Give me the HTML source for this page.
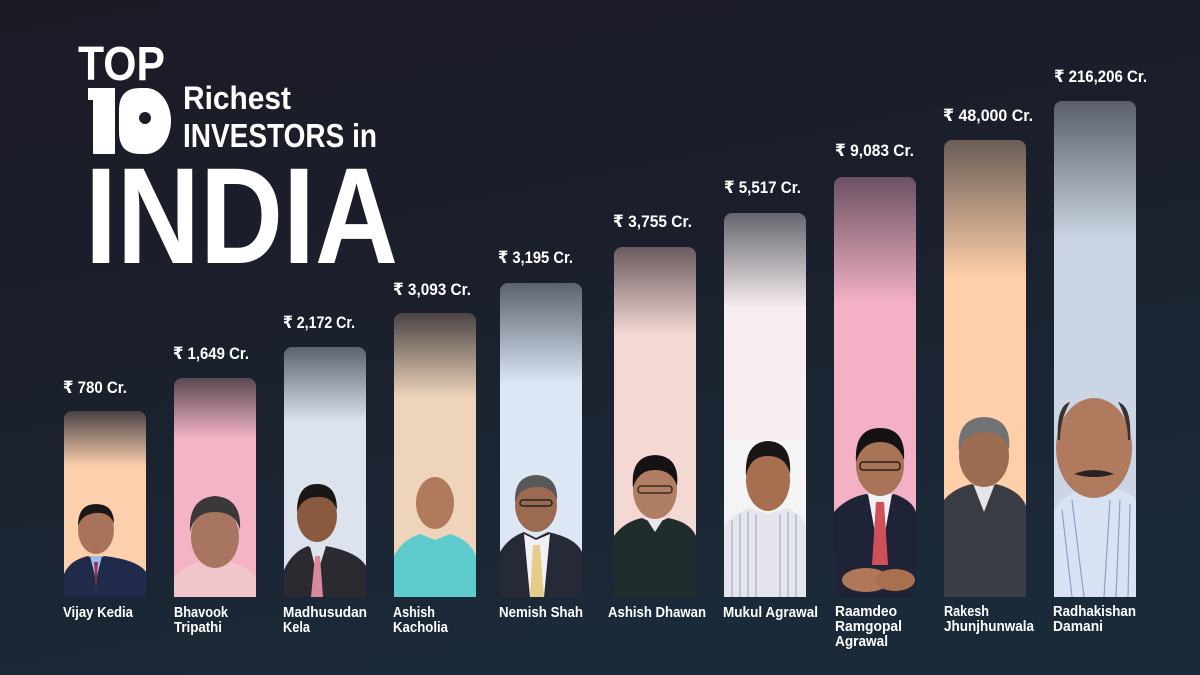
<!DOCTYPE html>
<html><head><meta charset="utf-8"><style>
html,body{margin:0;padding:0;width:1200px;height:675px;overflow:hidden;background:#1b1f2c;}
svg{display:block}
</style></head><body>
<svg width="1200" height="675" viewBox="0 0 1200 675" xmlns="http://www.w3.org/2000/svg">
<defs>
<linearGradient id="bg" x1="0" y1="0" x2="0.35" y2="1">
<stop offset="0" stop-color="#1b1b26"/><stop offset="0.5" stop-color="#1b1f2c"/><stop offset="1" stop-color="#1b2a39"/>
</linearGradient>
<linearGradient id="g1" x1="0" y1="0" x2="0" y2="1"><stop offset="0" stop-color="#4a4244"/><stop offset="0.3" stop-color="#fdd0ad"/><stop offset="1" stop-color="#fdd0ad"/></linearGradient>
<linearGradient id="g2" x1="0" y1="0" x2="0" y2="1"><stop offset="0" stop-color="#5a4852"/><stop offset="0.28" stop-color="#f5b4c6"/><stop offset="1" stop-color="#f5b4c6"/></linearGradient>
<linearGradient id="g3" x1="0" y1="0" x2="0" y2="1"><stop offset="0" stop-color="#5c626e"/><stop offset="0.3" stop-color="#dce3ee"/><stop offset="1" stop-color="#dce3ee"/></linearGradient>
<linearGradient id="g4" x1="0" y1="0" x2="0" y2="1"><stop offset="0" stop-color="#4a4442"/><stop offset="0.3" stop-color="#efd4bc"/><stop offset="1" stop-color="#efd4bc"/></linearGradient>
<linearGradient id="g5" x1="0" y1="0" x2="0" y2="1"><stop offset="0" stop-color="#5a6270"/><stop offset="0.32" stop-color="#dde6f4"/><stop offset="1" stop-color="#dde6f4"/></linearGradient>
<linearGradient id="g6" x1="0" y1="0" x2="0" y2="1"><stop offset="0" stop-color="#6a5a5e"/><stop offset="0.25" stop-color="#f4d8d4"/><stop offset="1" stop-color="#f4d8d4"/></linearGradient>
<linearGradient id="g7" x1="0" y1="0" x2="0" y2="1"><stop offset="0" stop-color="#65666e"/><stop offset="0.25" stop-color="#f8eef1"/><stop offset="1" stop-color="#f8eef1"/></linearGradient>
<linearGradient id="g8" x1="0" y1="0" x2="0" y2="1"><stop offset="0" stop-color="#6a5262"/><stop offset="0.3" stop-color="#f4b1c5"/><stop offset="1" stop-color="#f4b1c5"/></linearGradient>
<linearGradient id="g9" x1="0" y1="0" x2="0" y2="1"><stop offset="0" stop-color="#6a5c56"/><stop offset="0.3" stop-color="#fecfa9"/><stop offset="1" stop-color="#fecfa9"/></linearGradient>
<linearGradient id="g10" x1="0" y1="0" x2="0" y2="1"><stop offset="0" stop-color="#5a5f68"/><stop offset="0.28" stop-color="#cbd5e3"/><stop offset="1" stop-color="#cbd5e3"/></linearGradient>
</defs>
<rect width="1200" height="675" fill="url(#bg)"/>

<!-- Title -->
<g fill="#ffffff" font-family="'Liberation Sans', sans-serif" font-weight="bold">
<text x="78" y="80" font-size="48" textLength="87" lengthAdjust="spacingAndGlyphs">TOP</text>
<path d="M88 88 H115 V154 H93 V100 H88 Z"/>
<path d="M140 88 H146 A25 33 0 0 1 146 154 H140 Q119 154 119 132 V110 Q119 88 140 88 Z M145 112 a6 6 0 1 0 0.01 0 Z" fill-rule="evenodd"/>
<text x="183" y="109" font-size="32" textLength="108" lengthAdjust="spacingAndGlyphs" style="font-weight:600">Richest</text>
<text x="183" y="147" font-size="33" textLength="194" lengthAdjust="spacingAndGlyphs" style="font-weight:600">INVESTORS in</text>
<text x="85" y="263" font-size="137" textLength="313" lengthAdjust="spacingAndGlyphs">INDIA</text>
</g>

<!-- Bars -->
<rect x="64" y="411" width="82" height="186" rx="8" fill="url(#g1)"/>
<rect x="174" y="378" width="82" height="219" rx="8" fill="url(#g2)"/>
<rect x="284" y="347" width="82" height="250" rx="8" fill="url(#g3)"/>
<rect x="394" y="313" width="82" height="284" rx="8" fill="url(#g4)"/>
<rect x="500" y="283" width="82" height="314" rx="8" fill="url(#g5)"/>
<rect x="614" y="247" width="82" height="350" rx="8" fill="url(#g6)"/>
<rect x="724" y="213" width="82" height="384" rx="8" fill="url(#g7)"/>
<rect x="834" y="177" width="82" height="420" rx="8" fill="url(#g8)"/>
<rect x="944" y="140" width="82" height="457" rx="8" fill="url(#g9)"/>
<rect x="1054" y="101" width="82" height="496" rx="8" fill="url(#g10)"/>

<!-- People -->
<path d="M64 597 V574 Q70 560 88 556 L96 560 L104 556 Q138 560 146 572 V597 Z" fill="#202b4c"/>
<path d="M90 556 L96 580 L102 556 Z" fill="#9cc0e8"/>
<path d="M94 562 L98 562 L96 590 Z" fill="#a0304a"/>
<ellipse cx="96" cy="530" rx="18" ry="24" fill="#a8735a"/>
<path d="M78 526 Q78 504 96 504 Q114 504 114 524 Q110 512 96 513 Q82 514 78 526 Z" fill="#1c1818"/>

<path d="M174 597 V578 Q182 566 200 562 L215 568 L230 562 Q250 568 256 578 V597 Z" fill="#f0c6cc"/>
<ellipse cx="215" cy="537" rx="24" ry="31" fill="#a87560"/>
<path d="M190 532 Q188 498 215 496 Q242 498 240 530 Q236 512 215 512 Q194 512 190 532 Z" fill="#3a3838"/>

<path d="M284 597 V570 Q292 552 308 546 L317 552 L326 546 Q358 552 366 566 V597 Z" fill="#2a2a30"/>
<path d="M310 546 L317 575 L326 546 Z" fill="#dde4f0"/>
<path d="M315 556 L320 556 L323 597 L311 597 Z" fill="#d88a9a"/>
<ellipse cx="317" cy="516" rx="20" ry="26" fill="#8a5a40"/>
<path d="M297 512 Q297 484 317 484 Q337 484 337 510 Q332 496 317 497 Q302 497 297 512 Z" fill="#1a1616"/>

<path d="M394 597 V556 Q402 540 420 534 L435 540 L450 534 Q470 540 476 556 V597 Z" fill="#5ecbce"/>
<ellipse cx="435" cy="503" rx="19" ry="26" fill="#b07a5c"/>

<path d="M500 597 V552 Q508 538 524 532 L536 538 L548 532 Q576 538 582 552 V597 Z" fill="#262a36"/>
<path d="M524 534 L530 597 L544 597 L550 534 L536 540 Z" fill="#f2f0f4"/>
<path d="M533 545 L540 545 L544 597 L530 597 Z" fill="#e6cc8a"/>
<ellipse cx="536" cy="505" rx="21" ry="27" fill="#9c6a50"/>
<path d="M515 502 Q514 476 536 475 Q558 476 557 500 Q552 486 536 487 Q520 487 515 502 Z" fill="#585858"/>
<rect x="520" y="500" width="32" height="6" rx="3" fill="none" stroke="#222" stroke-width="1.5"/>

<path d="M614 597 V536 Q624 522 642 518 L655 524 L668 518 Q690 522 696 536 V597 Z" fill="#1f2d2c"/>
<path d="M646 518 L655 532 L664 518 Z" fill="#e8e6ea"/>
<ellipse cx="655" cy="490" rx="22" ry="29" fill="#b07e62"/>
<path d="M633 488 Q630 456 655 455 Q680 456 677 486 Q672 470 655 470 Q638 470 633 488 Z" fill="#141212"/>
<rect x="638" y="486" width="34" height="7" rx="3" fill="none" stroke="#3a2a20" stroke-width="1.5"/>

<rect x="724" y="440" width="82" height="157" fill="#f4f4f6"/>
<path d="M724 597 V526 Q732 514 750 508 L768 514 L786 508 Q802 514 806 526 V597 Z" fill="#e4e6ec"/>
<g stroke="#9aa4c0" stroke-width="1">
<line x1="732" y1="520" x2="732" y2="597"/><line x1="740" y1="514" x2="740" y2="597"/><line x1="748" y1="512" x2="748" y2="597"/><line x1="756" y1="514" x2="756" y2="597"/><line x1="780" y1="514" x2="780" y2="597"/><line x1="788" y1="512" x2="788" y2="597"/><line x1="796" y1="514" x2="796" y2="597"/>
</g>
<ellipse cx="768" cy="480" rx="22" ry="31" fill="#a86e50"/>
<path d="M746 476 Q744 442 768 441 Q792 442 790 474 Q786 456 768 456 Q750 456 746 476 Z" fill="#1a1616"/>

<path d="M834 597 V512 Q846 498 866 494 L880 500 L894 494 Q912 500 916 512 V597 Z" fill="#1e2436"/>
<path d="M868 494 L880 560 L892 494 Z" fill="#f2f0f2"/>
<path d="M876 502 L884 502 L888 565 L872 565 Z" fill="#d0505a"/>
<ellipse cx="866" cy="580" rx="24" ry="12" fill="#b0785a"/>
<ellipse cx="895" cy="580" rx="20" ry="11" fill="#a8704e"/>
<ellipse cx="880" cy="465" rx="24" ry="31" fill="#a87458"/>
<path d="M856 462 Q854 428 880 428 Q906 428 904 460 Q898 442 880 442 Q862 442 856 462 Z" fill="#141212"/>
<rect x="860" y="462" width="40" height="8" rx="3" fill="none" stroke="#2a1c16" stroke-width="1.5"/>

<path d="M944 597 V500 Q954 488 972 484 L984 492 L996 484 Q1020 490 1026 506 V597 Z" fill="#3a3d44"/>
<path d="M974 486 L984 512 L994 486 Z" fill="#e6e6ea"/>
<ellipse cx="984" cy="456" rx="25" ry="31" fill="#9c6c52"/>
<path d="M959 452 Q956 418 984 417 Q1012 418 1009 450 Q1004 432 984 432 Q964 432 959 452 Z" fill="#707274"/>

<path d="M1054 597 V510 Q1064 494 1082 490 L1094 496 L1108 488 Q1130 490 1136 500 V597 Z" fill="#d8e2f2"/>
<g stroke="#8ca0cc" stroke-width="1.2">
<line x1="1062" y1="510" x2="1072" y2="597"/><line x1="1072" y1="500" x2="1084" y2="597"/><line x1="1110" y1="500" x2="1104" y2="597"/><line x1="1120" y1="500" x2="1116" y2="597"/><line x1="1130" y1="504" x2="1128" y2="597"/>
</g>
<ellipse cx="1094" cy="448" rx="38" ry="50" fill="#b07a5e"/>
<path d="M1058 440 Q1056 406 1070 402 Q1060 420 1060 440 Z" fill="#3a3030"/>
<path d="M1130 440 Q1132 406 1118 402 Q1128 420 1128 440 Z" fill="#3a3030"/>
<path d="M1074 474 Q1094 466 1114 474 Q1094 480 1074 474 Z" fill="#2a2222"/>

<!-- Value labels -->
<g fill="#ffffff" font-family="'Liberation Sans','DejaVu Sans', sans-serif" font-weight="bold" font-size="17">
<text x="63" y="393" textLength="64" lengthAdjust="spacingAndGlyphs">₹ 780 Cr.</text>
<text x="173" y="359" textLength="76" lengthAdjust="spacingAndGlyphs">₹ 1,649 Cr.</text>
<text x="283" y="328" textLength="72" lengthAdjust="spacingAndGlyphs">₹ 2,172 Cr.</text>
<text x="393" y="295" textLength="78" lengthAdjust="spacingAndGlyphs">₹ 3,093 Cr.</text>
<text x="498" y="263" textLength="75" lengthAdjust="spacingAndGlyphs">₹ 3,195 Cr.</text>
<text x="613" y="227" textLength="79" lengthAdjust="spacingAndGlyphs">₹ 3,755 Cr.</text>
<text x="724" y="193" textLength="77" lengthAdjust="spacingAndGlyphs">₹ 5,517 Cr.</text>
<text x="835" y="156" textLength="79" lengthAdjust="spacingAndGlyphs">₹ 9,083 Cr.</text>
<text x="943" y="121" textLength="90" lengthAdjust="spacingAndGlyphs">₹ 48,000 Cr.</text>
<text x="1054" y="82" textLength="93" lengthAdjust="spacingAndGlyphs">₹ 216,206 Cr.</text>
</g>

<!-- Names -->
<g fill="#ffffff" font-family="'Liberation Sans', sans-serif" font-weight="bold" font-size="15">
<text x="63" y="617" textLength="70" lengthAdjust="spacingAndGlyphs">Vijay Kedia</text>
<text x="174" y="617" textLength="54" lengthAdjust="spacingAndGlyphs">Bhavook</text>
<text x="174" y="632" textLength="48" lengthAdjust="spacingAndGlyphs">Tripathi</text>
<text x="283" y="617" textLength="84" lengthAdjust="spacingAndGlyphs">Madhusudan</text>
<text x="283" y="632" textLength="27" lengthAdjust="spacingAndGlyphs">Kela</text>
<text x="393" y="617" textLength="42" lengthAdjust="spacingAndGlyphs">Ashish</text>
<text x="393" y="632" textLength="55" lengthAdjust="spacingAndGlyphs">Kacholia</text>
<text x="499" y="617" textLength="84" lengthAdjust="spacingAndGlyphs">Nemish Shah</text>
<text x="608" y="617" textLength="98" lengthAdjust="spacingAndGlyphs">Ashish Dhawan</text>
<text x="723" y="617" textLength="95" lengthAdjust="spacingAndGlyphs">Mukul Agrawal</text>
<text x="835" y="616" textLength="62" lengthAdjust="spacingAndGlyphs">Raamdeo</text>
<text x="835" y="631" textLength="67" lengthAdjust="spacingAndGlyphs">Ramgopal</text>
<text x="835" y="646" textLength="53" lengthAdjust="spacingAndGlyphs">Agrawal</text>
<text x="944" y="616" textLength="45" lengthAdjust="spacingAndGlyphs">Rakesh</text>
<text x="944" y="631" textLength="90" lengthAdjust="spacingAndGlyphs">Jhunjhunwala</text>
<text x="1053" y="616" textLength="83" lengthAdjust="spacingAndGlyphs">Radhakishan</text>
<text x="1053" y="631" textLength="50" lengthAdjust="spacingAndGlyphs">Damani</text>
</g>
</svg>
</body></html>
